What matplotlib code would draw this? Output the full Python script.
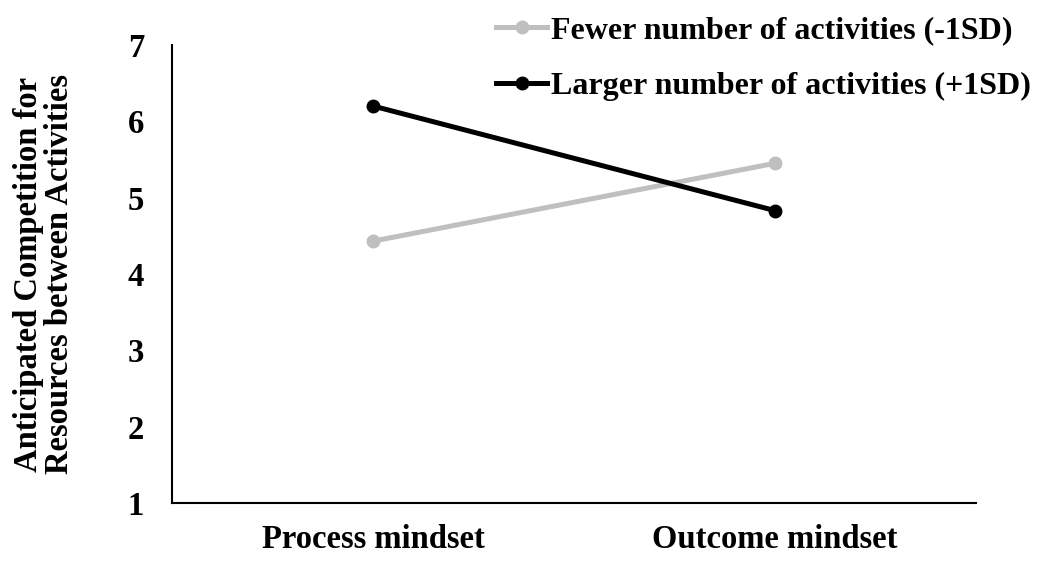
import matplotlib.pyplot as plt

categories = ["Process mindset", "Outcome mindset"]
fewer = [4.43, 5.45]
larger = [6.2, 4.83]
series_names = ["Fewer number of activities (-1SD)", "Larger number of activities (+1SD)"]
yticks = [1, 2, 3, 4, 5, 6, 7]

plt.rcParams['font.family'] = ['Liberation Serif', 'DejaVu Serif']
plt.rcParams['font.weight'] = 'bold'

fig = plt.figure(figsize=(10.4, 5.62), dpi=100)
ax = fig.add_axes([0.1654, 0.105, 0.7731, 0.815])

x = [0.5, 1.5]
ax.plot(x, fewer, color='#BFBFBF', lw=3.6, marker='o', ms=9, label=series_names[0])
ax.plot(x, larger, color='black', lw=3.6, marker='o', ms=9, label=series_names[1])

ax.set_xlim(0, 2)
ax.set_ylim(1, 7)
ax.set_xticks(x)
ax.set_xticklabels(categories, fontsize=23.5, fontweight='bold')
ax.set_yticks(yticks)
ax.set_yticklabels([str(v) for v in yticks], fontsize=23.5, fontweight='bold')
ax.tick_params(length=0)
ax.tick_params(axis='y', pad=20)
ax.tick_params(axis='x', pad=15)
for s in ['top', 'right']:
    ax.spines[s].set_visible(False)
for s in ['left', 'bottom']:
    ax.spines[s].set_linewidth(1.5)

ax.set_ylabel("Anticipated Competition for\nResources between Activities",
              fontsize=23.5, fontweight='bold', labelpad=38, linespacing=1.0)

fig.legend(loc='upper left', bbox_to_anchor=(0.465, 0.995), frameon=False,
           fontsize=23, handlelength=1.6, handletextpad=0.1, labelspacing=0.84,
           borderaxespad=0)

fig.savefig('out.png', dpi=100)
